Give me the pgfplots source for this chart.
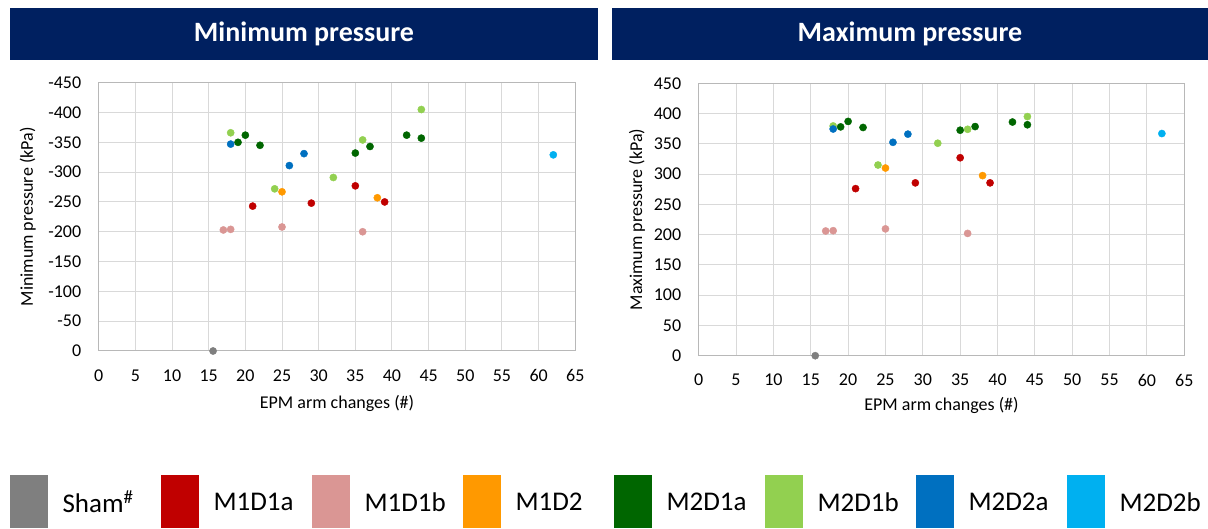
\documentclass[border=0pt]{standalone}
\usepackage{pgfplots}
\usepackage{pgfplotstable}
\pgfplotsset{compat=1.18}
\usepackage{fontspec}
\setmainfont{Carlito}
\definecolor{navy}{HTML}{002060}
\definecolor{cSham}{HTML}{7F7F7F}
\definecolor{cMAa}{HTML}{C00000}
\definecolor{cMAb}{HTML}{DA9694}
\definecolor{cMB}{HTML}{FF9900}
\definecolor{cMCa}{HTML}{006600}
\definecolor{cMCb}{HTML}{92D050}
\definecolor{cMDa}{HTML}{0070C0}
\definecolor{cMDb}{HTML}{00B0F0}
\definecolor{gridc}{HTML}{D9D9D9}

\pgfplotstableread{
x min max
15.6 0 0
}\tSham
\pgfplotstableread{
x min max
21 -243 276
29 -248 285.5
35 -277 327
39 -250 285.5
}\tMAa
\pgfplotstableread{
x min max
17 -203 206
18 -204 206.5
25 -208 209.5
36 -200 202
}\tMAb
\pgfplotstableread{
x min max
25 -267 310
38 -257 297.5
}\tMB
\pgfplotstableread{
x min max
19 -350 378
20 -362 387
22 -345 377
35 -332 372.5
37 -343 378.5
42 -362 386
44 -357 381.5
}\tMCa
\pgfplotstableread{
x min max
18 -366 379.5
24 -272 315
32 -291 351
36 -354 374
44 -405 395
}\tMCb
\pgfplotstableread{
x min max
18 -347 374.5
26 -311 352.5
28 -331 366
}\tMDa
\pgfplotstableread{
x min max
62 -329 367
}\tMDb

\pgfplotsset{
  boxlegend/.style={legend image code/.code={\fill[##1] (0pt,-26.5pt) rectangle (37.5pt,26.5pt);}},
  base/.style={
    scale only axis,
    xmin=0, xmax=65, xtick={0,5,...,65},
    grid=major, grid style={color=gridc, line width=1pt},
    axis line style={color=gridc!85!black, line width=1pt},
    major tick length=0pt,
    tick label style={font=\fontsize{18}{20}\selectfont, text=black},
    /pgf/number format/assume math mode=true,
    label style={font=\fontsize{18}{20}\selectfont},
    xticklabel style={yshift=-15pt},
    yticklabel style={xshift=-14pt},
    xlabel={EPM arm changes (\#)},
  },
  pt/.style={only marks, mark=*, mark size=3.6pt, mark options={draw=none, fill=#1}, color=#1},
}

\begin{document}
\begin{tikzpicture}
\useasboundingbox (0pt,0pt) rectangle (1208pt,529pt);
\node[fill=navy, minimum width=588pt, minimum height=52pt, anchor=north west, inner sep=0pt] at (10pt,521pt) {};
\node[text=white, font=\fontsize{28}{30}\selectfont\bfseries] at (304pt,495pt) {Minimum pressure};
\node[fill=navy, minimum width=596pt, minimum height=52pt, anchor=north west, inner sep=0pt] at (612pt,521pt) {};
\node[text=white, font=\fontsize{28}{30}\selectfont\bfseries] at (910pt,495pt) {Maximum pressure};

\begin{axis}[base,
  at={(98.7pt,178pt)}, anchor=south west,
  width=476.6pt, height=268.3pt,
  ymin=-450, ymax=0, y dir=reverse, ytick={-450,-400,...,0},
  ylabel={Minimum pressure (kPa)},
  ylabel style={at={(axis description cs:-0.149,0.5)}, anchor=center},
  xlabel style={at={(axis description cs:0.5,-0.194)}, anchor=center},
]
\addplot[pt=cSham] table[x=x,y=min] {\tSham};
\addplot[pt=cMAa] table[x=x,y=min] {\tMAa};
\addplot[pt=cMAb] table[x=x,y=min] {\tMAb};
\addplot[pt=cMB] table[x=x,y=min] {\tMB};
\addplot[pt=cMCa] table[x=x,y=min] {\tMCa};
\addplot[pt=cMCb] table[x=x,y=min] {\tMCb};
\addplot[pt=cMDa] table[x=x,y=min] {\tMDa};
\addplot[pt=cMDb] table[x=x,y=min] {\tMDb};
\end{axis}

\begin{axis}[base,
  at={(698.7pt,173.3pt)}, anchor=south west,
  width=485.6pt, height=272.4pt,
  ymin=0, ymax=450, ytick={0,50,...,450},
  ylabel={Maximum pressure (kPa)},
  ylabel style={at={(axis description cs:-0.127,0.5)}, anchor=center},
  xlabel style={at={(axis description cs:0.5,-0.181)}, anchor=center},
  legend columns=8,
  legend style={at={(axis description cs:-1.4182,-0.5352)}, anchor=west,
    draw=none, fill=none, inner sep=0pt, outer sep=0pt,
    font=\fontsize{27}{30}\selectfont,
    nodes={inner sep=0pt},
    /tikz/every odd column/.append style={column sep=15pt},
    /tikz/every even column/.append style={column sep=0pt}},
]
\addplot[pt=cSham, forget plot] table[x=x,y=max] {\tSham};
\addplot[pt=cMAa, forget plot] table[x=x,y=max] {\tMAa};
\addplot[pt=cMAb, forget plot] table[x=x,y=max] {\tMAb};
\addplot[pt=cMB, forget plot] table[x=x,y=max] {\tMB};
\addplot[pt=cMCa, forget plot] table[x=x,y=max] {\tMCa};
\addplot[pt=cMCb, forget plot] table[x=x,y=max] {\tMCb};
\addplot[pt=cMDa, forget plot] table[x=x,y=max] {\tMDa};
\addplot[pt=cMDb, forget plot] table[x=x,y=max] {\tMDb};
\addlegendimage{boxlegend, fill=cSham, draw=none}
\addlegendentry{\makebox[98.5pt][l]{\raisebox{-2pt}{Sham\textsuperscript{\#}}}}
\addlegendimage{boxlegend, fill=cMAa, draw=none}
\addlegendentry{\makebox[98.5pt][l]{\raisebox{-2pt}{M1D1a}}}
\addlegendimage{boxlegend, fill=cMAb, draw=none}
\addlegendentry{\makebox[98.5pt][l]{\raisebox{-2pt}{M1D1b}}}
\addlegendimage{boxlegend, fill=cMB, draw=none}
\addlegendentry{\makebox[98.5pt][l]{\raisebox{-2pt}{M1D2}}}
\addlegendimage{boxlegend, fill=cMCa, draw=none}
\addlegendentry{\makebox[98.5pt][l]{\raisebox{-2pt}{M2D1a}}}
\addlegendimage{boxlegend, fill=cMCb, draw=none}
\addlegendentry{\makebox[98.5pt][l]{\raisebox{-2pt}{M2D1b}}}
\addlegendimage{boxlegend, fill=cMDa, draw=none}
\addlegendentry{\makebox[98.5pt][l]{\raisebox{-2pt}{M2D2a}}}
\addlegendimage{boxlegend, fill=cMDb, draw=none}
\addlegendentry{\raisebox{-2pt}{M2D2b}}
\end{axis}
\end{tikzpicture}
\end{document}
